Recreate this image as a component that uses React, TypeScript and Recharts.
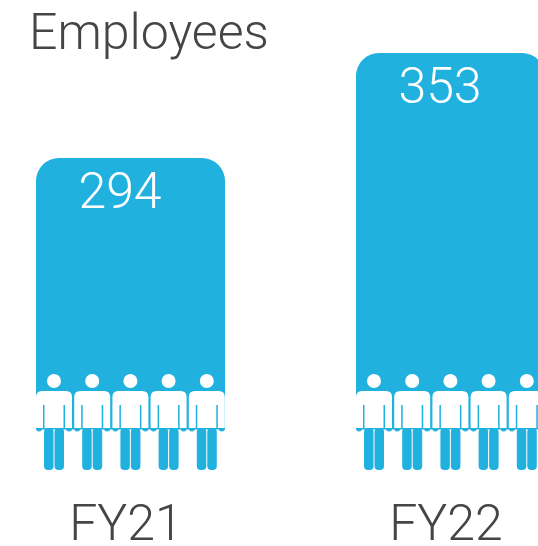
import { BarChart, Bar, XAxis, YAxis, LabelList } from 'recharts';

const categories = ['FY21', 'FY22'];
const employees = [294, 353];
const chartData = categories.map((name, i) => ({ name, employees: employees[i] }));

const BLUE = '#20b1df';
const GREY = '#454545';
const FONT = 'Roboto, sans-serif';
const PEOPLE = [0, 1, 2, 3, 4];

function Person({ cx, bottom }: { cx: number; bottom: number }) {
  const waist = bottom - 42;
  const shoulder = waist - 37;
  return (
    <g>
      <circle cx={cx} cy={shoulder - 10} r={7} fill="#fff" />
      <circle cx={cx - 15} cy={waist + 0.5} r={3} fill={BLUE} />
      <circle cx={cx + 15} cy={waist + 0.5} r={3} fill={BLUE} />
      <path
        d={`M${cx - 18} ${waist} V${shoulder + 6} Q${cx - 18} ${shoulder} ${cx - 12} ${shoulder} H${cx + 12} Q${cx + 18} ${shoulder} ${cx + 18} ${shoulder + 6} V${waist} Z`}
        fill="#fff"
      />
      <rect x={cx - 11} y={waist - 23} width={1.5} height={23} fill={BLUE} />
      <rect x={cx + 9.5} y={waist - 23} width={1.5} height={23} fill={BLUE} />
      <rect x={cx - 10} y={waist} width={9.5} height={42} rx={4} fill={BLUE} />
      <rect x={cx + 0.5} y={waist} width={9.5} height={42} rx={4} fill={BLUE} />
    </g>
  );
}

function PictogramBar(props: any) {
  const { x, y, width, height } = props;
  const bottom = y + height;
  const waist = bottom - 42;
  const r = 23;
  return (
    <g>
      <path
        d={`M${x} ${waist} V${y + r} A${r} ${r} 0 0 1 ${x + r} ${y} H${x + width - r} A${r} ${r} 0 0 1 ${x + width} ${y + r} V${waist} Z`}
        fill={BLUE}
      />
      <rect x={x} y={waist} width={width} height={1.5} fill={BLUE} />
      {PEOPLE.map((i) => (
        <Person key={i} cx={x + 18 + i * 38.2} bottom={bottom} />
      ))}
    </g>
  );
}

function ValueLabel(props: any) {
  const { x, y, width, value } = props;
  return (
    <text
      x={x + width / 2 - 10.5}
      y={y + 49.5}
      textAnchor="middle"
      fill="#fff"
      fontFamily={FONT}
      fontWeight={300}
      fontSize={50}
    >
      {value}
    </text>
  );
}

export default function App() {
  return (
    <div style={{ position: 'absolute', left: 0, top: 0, width: 538, height: 546, overflow: 'hidden', background: '#fff' }}>
      <div
        style={{
          position: 'absolute',
          left: 29,
          top: 4,
          fontFamily: FONT,
          fontWeight: 300,
          fontSize: 50,
          lineHeight: '56px',
          color: GREY,
        }}
      >
        Employees
      </div>
      <div style={{ position: 'absolute', left: -30.5, top: 0 }}>
        <BarChart width={640} height={546} data={chartData} margin={{ top: 0, right: 0, bottom: 0, left: 0 }}>
          <XAxis
            dataKey="name"
            height={76}
            axisLine={false}
            tickLine={false}
            interval={0}
            dx={-4}
            tickMargin={28}
            tick={{ fontFamily: FONT, fontWeight: 300, fontSize: 50, fill: GREY }}
          />
          <YAxis hide domain={[118.7, 382.8]} allowDataOverflow />
          <Bar dataKey="employees" barSize={189} isAnimationActive={false} shape={PictogramBar}>
            <LabelList dataKey="employees" content={ValueLabel} />
          </Bar>
        </BarChart>
      </div>
    </div>
  );
}
